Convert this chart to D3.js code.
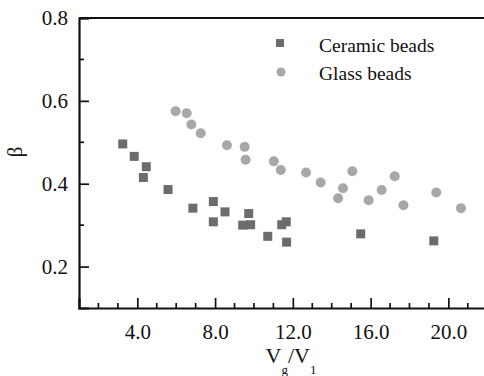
<!DOCTYPE html>
<html lang="en">
<head>
    <meta charset="UTF-8">
    <title>beta-vs-vg-v1</title>
    <script src="https://cdn.jsdelivr.net/npm/d3@7/dist/d3.min.js"></script>
    <style>
        body{ margin: 0; background: #fff; }
    </style>
</head>
<body>
<svg class="chart"></svg>
<script>

    // data
    var ceramicX = [3.25, 3.84, 4.46, 4.31, 5.58, 6.86, 7.91, 7.91, 8.51, 9.42, 9.83, 9.73, 10.71, 11.43, 11.66, 11.68, 15.49, 19.25];
    var ceramicY = [0.496, 0.466, 0.441, 0.415, 0.386, 0.341, 0.357, 0.308, 0.332, 0.300, 0.301, 0.328, 0.273, 0.301, 0.308, 0.259, 0.279, 0.262];
    var glassX = [5.97, 6.54, 6.78, 7.26, 8.61, 9.52, 9.57, 11.02, 11.38, 12.68, 13.43, 15.06, 14.58, 14.33, 15.90, 16.57, 17.24, 17.69, 19.38, 20.65];
    var glassY = [0.575, 0.570, 0.543, 0.522, 0.493, 0.489, 0.458, 0.454, 0.433, 0.427, 0.403, 0.430, 0.389, 0.365, 0.360, 0.385, 0.418, 0.348, 0.379, 0.341];
    var xTicks = [4, 8, 12, 16, 20];
    var yTicks = [0.2, 0.4, 0.6, 0.8];
    var seriesNames = ["Ceramic beads", "Glass beads"];

    var serif = '"Liberation Serif", "Times New Roman", serif';
    var width = 484, height = 376;
    var margins = {top: 18, left: 79, bottom: 68};

    var x = d3.scaleLinear().domain([1, 22]).range([margins.left, margins.left + 21 * 19.44]);
    var y = d3.scaleLinear().domain([0.1, 0.8]).range([height - margins.bottom, margins.top]);

    var svg = d3.select('.chart').attr('width', width).attr('height', height)
        .style('font-family', serif);

    // minor ticks
    var xMinor = d3.range(2, 22).filter(function (d) { return d % 4 !== 0; });
    var yMinor = [0.3, 0.5, 0.7];

    var xAxis = svg.append('g')
        .attr('transform', 'translate(0,' + y(0.1) + ')')
        .call(d3.axisBottom(x).tickValues(xTicks).tickFormat(d3.format('.1f')).tickSize(-10).tickPadding(16));
    xAxis.append('g').selectAll('line').data(xMinor).enter().append('line')
        .attr('x1', function (d) { return x(d); }).attr('x2', function (d) { return x(d); })
        .attr('y1', 0).attr('y2', -5).attr('stroke', '#111').attr('stroke-width', 1.7);

    var yAxis = svg.append('g')
        .attr('transform', 'translate(' + margins.left + ',0)')
        .call(d3.axisLeft(y).tickValues(yTicks).tickFormat(d3.format('.1f')).tickSize(-10).tickPadding(11));
    yAxis.append('g').selectAll('line').data(yMinor).enter().append('line')
        .attr('y1', function (d) { return y(d); }).attr('y2', function (d) { return y(d); })
        .attr('x1', 0).attr('x2', 5).attr('stroke', '#111').attr('stroke-width', 1.7);

    svg.selectAll('.domain').attr('stroke', '#111').attr('stroke-width', 2.2);
    svg.selectAll('.tick line').attr('stroke', '#111').attr('stroke-width', 1.7);
    svg.selectAll('.tick text')
        .style('font-family', serif).style('font-size', '21px').attr('fill', '#111');

    // top frame line
    svg.append('line')
        .attr('x1', margins.left).attr('x2', width)
        .attr('y1', y(0.8)).attr('y2', y(0.8))
        .attr('stroke', '#111').attr('stroke-width', 2.2);

    // points
    svg.append('g').selectAll('circle').data(glassX).enter().append('circle')
        .attr('cx', function (d) { return x(d); })
        .attr('cy', function (d, i) { return y(glassY[i]); })
        .attr('r', 5)
        .attr('fill', '#a8a8a8');

    svg.append('g').selectAll('rect').data(ceramicX).enter().append('rect')
        .attr('x', function (d) { return x(d) - 4.5; })
        .attr('y', function (d, i) { return y(ceramicY[i]) - 4.5; })
        .attr('width', 9).attr('height', 9)
        .attr('fill', '#6c6c6c');

    // legend
    var legend = svg.append('g');
    legend.append('rect').attr('x', 276).attr('y', 39).attr('width', 8).attr('height', 8).attr('fill', '#6c6c6c');
    legend.append('circle').attr('cx', 281).attr('cy', 72).attr('r', 4.5).attr('fill', '#a8a8a8');
    legend.selectAll('text').data(seriesNames).enter().append('text')
        .attr('x', 319)
        .attr('y', function (d, i) { return 52 + i * 28; })
        .style('font-family', serif)
        .style('font-size', '19.5px')
        .attr('fill', '#111')
        .text(function (d) { return d; });

    // axis titles
    svg.append('text')
        .attr('transform', 'translate(22,152) rotate(-90)')
        .attr('text-anchor', 'middle')
        .style('font-family', serif)
        .style('font-size', '21px')
        .attr('fill', '#111')
        .text('β');

    var xt = svg.append('text')
        .attr('x', 291).attr('y', 363)
        .attr('text-anchor', 'middle')
        .style('font-family', serif)
        .style('font-size', '22px')
        .attr('fill', '#111');
    xt.append('tspan').text('V');
    xt.append('tspan').attr('dy', 11).style('font-size', '13px').text('g');
    xt.append('tspan').attr('dy', -11).text('/V');
    xt.append('tspan').attr('dy', 11).style('font-size', '13px').text('1');

</script>
</body>
</html>
